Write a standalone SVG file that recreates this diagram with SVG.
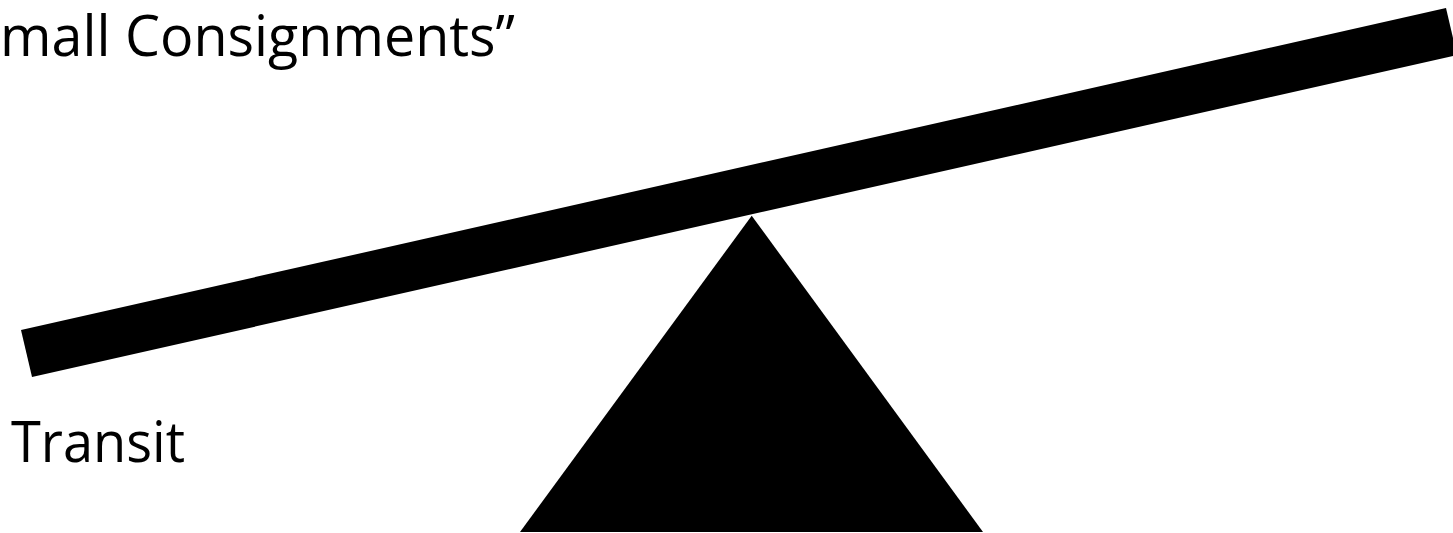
<svg xmlns="http://www.w3.org/2000/svg" width="1453" height="533" viewBox="0 0 1453 533">
<style>
.lbl{font-family:"Open Sans","Liberation Sans",sans-serif;font-size:57px;fill:#000}
.shape{fill:#000;stroke:none}
</style>
<rect width="1453" height="533" fill="#fff"/>
<g id="beam"><polygon class="shape" points="21,330 1446,8 1457,55 32,377"/></g>
<g id="fulcrum"><polygon class="shape" points="751.7,215.7 983,532 520,532"/></g>
<g id="label-top"><text class="lbl" x="0" y="56" textLength="515" lengthAdjust="spacingAndGlyphs">mall Consignments”</text></g>
<g id="label-transit"><text class="lbl" x="11" y="462" textLength="174" lengthAdjust="spacingAndGlyphs">Transit</text></g>
<g id="connectors"/>
</svg>
